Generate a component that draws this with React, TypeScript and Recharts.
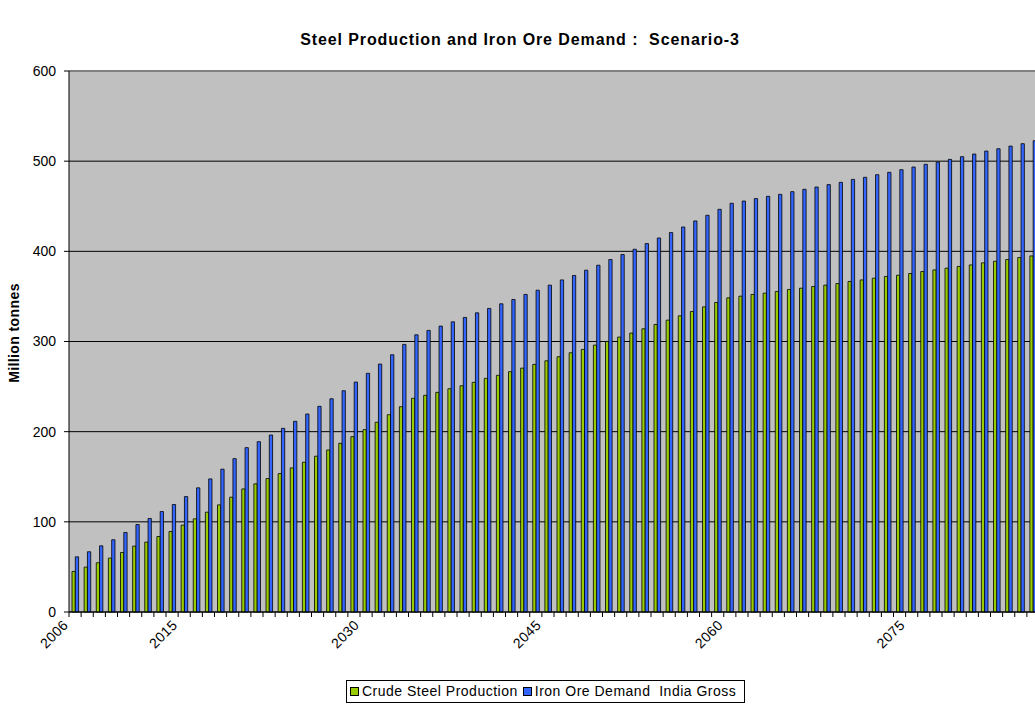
import React from "react";
import {
  BarChart,
  Bar,
  CartesianGrid,
  XAxis,
  YAxis,
  ReferenceLine,
} from "recharts";

const years = [
  2006, 2007, 2008, 2009, 2010, 2011, 2012, 2013, 2014, 2015,
  2016, 2017, 2018, 2019, 2020, 2021, 2022, 2023, 2024, 2025,
  2026, 2027, 2028, 2029, 2030, 2031, 2032, 2033, 2034, 2035,
  2036, 2037, 2038, 2039, 2040, 2041, 2042, 2043, 2044, 2045,
  2046, 2047, 2048, 2049, 2050, 2051, 2052, 2053, 2054, 2055,
  2056, 2057, 2058, 2059, 2060, 2061, 2062, 2063, 2064, 2065,
  2066, 2067, 2068, 2069, 2070, 2071, 2072, 2073, 2074, 2075,
  2076, 2077, 2078, 2079, 2080, 2081, 2082, 2083, 2084, 2085,
];

const crudeSteel = [
  45.0, 49.8, 54.6, 59.8, 66.0, 73.1, 77.5, 83.7, 89.3, 96.3,
  103.3, 110.7, 118.8, 127.3, 136.5, 142.1, 148.0, 153.5, 159.8, 166.1,
  172.8, 179.7, 187.1, 194.5, 202.2, 210.4, 218.8, 227.7, 237.0, 240.3,
  243.6, 247.6, 250.9, 254.7, 259.1, 262.5, 266.5, 270.5, 274.6, 278.6,
  283.1, 287.5, 291.2, 296.0, 300.1, 304.9, 309.3, 314.1, 318.9, 323.7,
  328.5, 333.3, 338.4, 343.3, 348.4, 350.3, 352.2, 353.6, 355.5, 357.7,
  359.1, 361.0, 362.5, 364.3, 366.6, 368.3, 370.2, 372.1, 373.5, 375.4,
  377.6, 379.4, 381.3, 383.2, 384.9, 387.2, 389.0, 390.9, 393.1, 394.9,
];

const ironOre = [
  61.2, 66.8, 73.4, 80.1, 88.2, 97.0, 103.7, 111.4, 119.2, 128.0,
  137.7, 147.6, 158.4, 170.1, 182.3, 188.9, 196.3, 203.7, 211.5, 219.6,
  228.1, 236.5, 245.4, 255.0, 264.7, 275.0, 285.3, 296.8, 307.4, 312.3,
  317.1, 321.8, 326.7, 331.8, 336.7, 341.8, 346.6, 352.2, 356.9, 362.5,
  368.3, 373.2, 379.1, 384.6, 390.9, 396.5, 402.3, 408.6, 414.8, 420.8,
  427.0, 433.7, 440.0, 446.6, 453.3, 455.8, 458.5, 461.0, 463.2, 466.2,
  468.8, 471.3, 474.0, 476.5, 479.8, 482.1, 485.0, 487.6, 490.6, 493.5,
  496.5, 499.0, 502.0, 505.0, 507.9, 511.2, 513.8, 516.7, 519.4, 522.7,
];

const labelYears = [2006, 2015, 2030, 2045, 2060, 2075];
const yTicks = [0, 100, 200, 300, 400, 500, 600];

const data = years.map((year, i) => ({
  year,
  steel: crudeSteel[i],
  ore: ironOre[i],
}));

const FONT = "'Liberation Sans', Arial, sans-serif";
const PLOT_LEFT = 69;
const PLOT_RIGHT = 1039;
const BAND = (PLOT_RIGHT - PLOT_LEFT) / years.length;

function YearTick(props: any) {
  const { x, y, payload } = props;
  const left = x - BAND / 2;
  const show = labelYears.includes(payload.value);
  const ax = x - 6;
  const ay = y + 14;
  return (
    <g>
      <line x1={left} y1={y} x2={left} y2={y + 5} stroke="#000" />
      {show && (
        <text
          x={ax}
          y={ay}
          textAnchor="end"
          transform={`rotate(-45 ${ax} ${ay})`}
          fontFamily={FONT}
          fontSize={14}
          letterSpacing={0.4}
          fill="#000"
        >
          {payload.value}
        </text>
      )}
    </g>
  );
}

function LegendSwatch({ color }: { color: string }) {
  return (
    <span
      style={{
        display: "inline-block",
        width: 7,
        height: 7,
        background: color,
        border: "1px solid #000",
        marginRight: 3,
        verticalAlign: "middle",
        position: "relative",
        top: -1,
      }}
    />
  );
}

export default function App() {
  return (
    <div
      style={{
        position: "absolute",
        left: 0,
        top: 0,
        width: 1035,
        height: 704,
        overflow: "hidden",
        background: "#fff",
        fontFamily: FONT,
      }}
    >
      <div
        style={{
          position: "absolute",
          left: 0,
          top: 31,
          width: 1040,
          textAlign: "center",
          fontWeight: "bold",
          fontSize: 16,
          letterSpacing: 0.9,
          lineHeight: "18px",
          color: "#000",
        }}
      >
        Steel Production and Iron Ore Demand :&nbsp; Scenario-3
      </div>

      <div
        style={{
          position: "absolute",
          left: 14 - 100,
          top: 333 - 9,
          width: 200,
          height: 18,
          lineHeight: "18px",
          textAlign: "center",
          fontWeight: "bold",
          fontSize: 14,
          letterSpacing: 0.4,
          transform: "rotate(-90deg)",
          color: "#000",
        }}
      >
        Million tonnes
      </div>

      <div style={{ position: "absolute", left: 0, top: 0 }}>
        <BarChart
          width={1045}
          height={704}
          data={data}
          margin={{ top: 71, right: 1045 - PLOT_RIGHT, bottom: 32, left: 0 }}
          barGap={0}
          barSize={3.3}
        >
          <CartesianGrid
            vertical={false}
            fill="#C0C0C0"
            fillOpacity={1}
            stroke="#000"
            strokeOpacity={1}
          />
          <ReferenceLine y={600} stroke="#808080" strokeWidth={2} />
          <XAxis
            dataKey="year"
            type="category"
            interval={0}
            height={60}
            tickLine={false}
            tickSize={0}
            tickMargin={0}
            axisLine={{ stroke: "#000" }}
            tick={<YearTick />}
          />
          <YAxis
            width={PLOT_LEFT}
            domain={[0, 600]}
            ticks={yTicks}
            interval={0}
            tickSize={5}
            tickMargin={8}
            axisLine={{ stroke: "#000" }}
            tickLine={{ stroke: "#000" }}
            tick={{ fontFamily: FONT, fontSize: 14, fill: "#000" }}
          />
          <Bar
            dataKey="steel"
            name="Crude Steel Production"
            fill="#99CC00"
            stroke="#000"
            strokeWidth={0.8}
            isAnimationActive={false}
          />
          <Bar
            dataKey="ore"
            name="Iron Ore Demand  India Gross"
            fill="#3366FF"
            stroke="#000"
            strokeWidth={0.8}
            isAnimationActive={false}
          />
        </BarChart>
      </div>

      <div
        style={{
          position: "absolute",
          left: 346,
          top: 680,
          width: 399,
          height: 23,
          border: "1px solid #000",
          fontSize: 14,
          letterSpacing: 0.5,
          lineHeight: "21px",
          color: "#000",
          paddingLeft: 3,
          boxSizing: "border-box",
          whiteSpace: "nowrap",
        }}
      >
        <LegendSwatch color="#99CC00" />
        <span style={{ marginRight: 5 }}>Crude Steel Production</span>
        <LegendSwatch color="#3366FF" />
        <span>Iron Ore Demand&nbsp; India Gross</span>
      </div>
    </div>
  );
}
